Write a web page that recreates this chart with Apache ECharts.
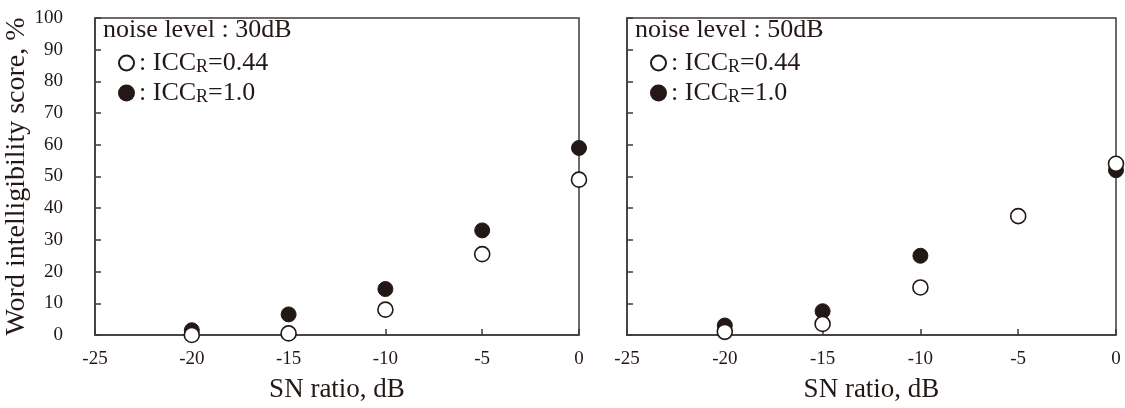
<!DOCTYPE html>
<html><head><meta charset="utf-8">
<script src="https://cdn.jsdelivr.net/npm/echarts@6/dist/echarts.min.js"></script>
<style>html,body{margin:0;padding:0;background:#fff}#c{width:1125px;height:408px}</style>
</head><body><div id="c"></div>
<script>
const snRatio = [-20, -15, -10, -5, 0];
// noise level 30 dB
const open30 = [0, 0.5, 8, 25.5, 49];
const filled30 = [1.5, 6.5, 14.5, 33, 59];
// noise level 50 dB
const open50 = [1, 3.5, 15, 37.5, 54];
const filled50 = [3, 7.5, 25, null, 52];
const xTicks = [-25, -20, -15, -10, -5, 0];
const yTicks = [0, 10, 20, 30, 40, 50, 60, 70, 80, 90, 100];
const panelTitles = ['noise level : 30dB', 'noise level : 50dB'];

const INK = '#231815';
const FRAME = '#3d3a3b';
const FONT = 'Liberation Serif';

function pairs(vals){ return snRatio.map((x,i)=> vals[i]==null ? null : [x, vals[i]]).filter(p=>p); }

const grids = [
  {left: 95, top: 18, width: 484, height: 317},
  {left: 627, top: 18, width: 489, height: 317}
];

function xAxis(i){
  return {gridIndex:i, type:'value', position:'bottom', min:xTicks[0], max:xTicks[xTicks.length-1], interval:5,
    name:'SN ratio, dB', nameLocation:'middle', nameGap:41,
    nameTextStyle:{fontFamily:FONT, fontSize:27, color:INK},
    axisLine:{show:true, onZero:false, lineStyle:{color:FRAME, width:1.5}},
    axisTick:{show:true, inside:true, length:6, lineStyle:{color:FRAME, width:1.5}},
    axisLabel:{fontFamily:FONT, fontSize:19, color:INK, margin:15},
    splitLine:{show:false}};
}
function yAxis(i){
  return {gridIndex:i, type:'value', position:'left', min:yTicks[0], max:yTicks[yTicks.length-1], interval:10,
    name: i===0 ? 'Word intelligibility score, %' : '', nameLocation:'middle', nameGap:54,
    nameTextStyle:{fontFamily:FONT, fontSize:28, color:INK},
    axisLine:{show:true, onZero:false, lineStyle:{color:FRAME, width:1.5}},
    axisTick:{show:true, inside:true, length:6, lineStyle:{color:FRAME, width:1.5}},
    axisLabel:{show: i===0, fontFamily:FONT, fontSize:19, color:INK, margin:32},
    splitLine:{show:false}};
}

const openStyle = {color:'#ffffff', borderColor:INK, borderWidth:1.6, opacity:1};
const filledStyle = {color:INK, borderColor:INK, borderWidth:1, opacity:1};

const labelMap = {
  'o30':'{t|: ICC}{s|R}{t|=0.44}', 'f30':'{t|: ICC}{s|R}{t|=1.0}',
  'o50':'{t|: ICC}{s|R}{t|=0.44}', 'f50':'{t|: ICC}{s|R}{t|=1.0}'
};
const rich = {t:{fontFamily:FONT, fontSize:26, color:INK, lineHeight:28},
              s:{fontFamily:FONT, fontSize:18, color:INK, lineHeight:28, padding:[8,0,0,0]}};

function legend(i, names){
  return {data:names, orient:'vertical', left: grids[i].left+23, top:50, itemGap:4, padding:0,
    itemWidth:15, itemHeight:15, icon:'circle', selectedMode:false,
    formatter:n=>labelMap[n], textStyle:{rich:rich, fontFamily:FONT, fontSize:26, color:INK}};
}

const option = {
  animation:false,
  grid: grids.map(g=>Object.assign({show:true, borderColor:FRAME, borderWidth:1.5, backgroundColor:'transparent'}, g)),
  title: panelTitles.map((t,i)=>({text:t, left:grids[i].left+8, top:17, padding:0,
    textStyle:{fontFamily:FONT, fontSize:26, fontWeight:'normal', color:INK}})),
  legend:[legend(0,['o30','f30']), legend(1,['o50','f50'])],
  xAxis:[xAxis(0), xAxis(1)],
  yAxis:[yAxis(0), yAxis(1)],
  series:[
    {name:'f30', type:'scatter', xAxisIndex:0, yAxisIndex:0, data:pairs(filled30), symbolSize:15, clip:false, itemStyle:filledStyle},
    {name:'o30', type:'scatter', xAxisIndex:0, yAxisIndex:0, data:pairs(open30), symbolSize:15, clip:false, itemStyle:openStyle},
    {name:'f50', type:'scatter', xAxisIndex:1, yAxisIndex:1, data:pairs(filled50), symbolSize:15, clip:false, itemStyle:filledStyle},
    {name:'o50', type:'scatter', xAxisIndex:1, yAxisIndex:1, data:pairs(open50), symbolSize:15, clip:false, itemStyle:openStyle}
  ]
};
echarts.init(document.getElementById('c')).setOption(option);
</script></body></html>
